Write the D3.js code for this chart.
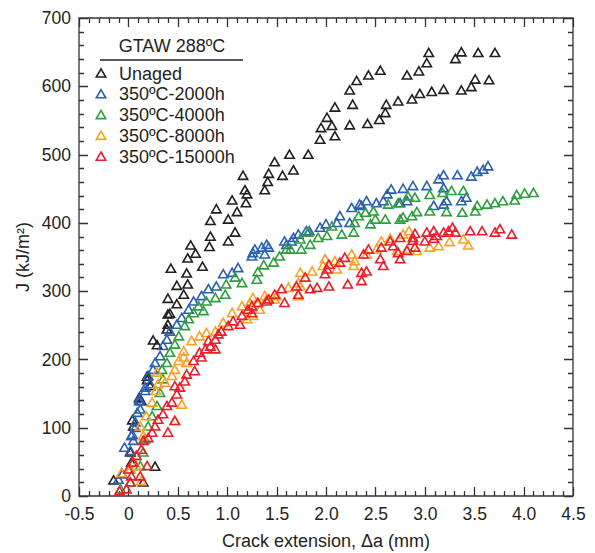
<!DOCTYPE html>
<html>
<head>
  <meta charset="utf-8">
  <title>J-R curves GTAW 288C</title>
  <script src="https://d3js.org/d3.v7.min.js"></script>
<style type="text/css">
body {
  margin: 0;
  background: #fff;
  font-family: "Liberation Sans", Arial, Helvetica, sans-serif;
  color: #231f20;
}
.axis path { display: none; }
.axis line { display: none; }
.axis text { font-size: 17.5px; fill: #231f20; font-family: "Liberation Sans", Arial, sans-serif; }
.marker { fill: none; stroke-width: 1.6; }
</style>
</head>
<body>
<svg id="chart" width="595" height="553"></svg>

<script type="text/javascript">

// ---- data (crack extension mm, J kJ/m2) ----
const seriesNames = ['Unaged', '350ºC-2000h', '350ºC-4000h', '350ºC-8000h', '350ºC-15000h'];
const seriesColors = ['#231f20', '#2b5fb0', '#2e9e3e', '#f8a22a', '#ec1c2b'];

const unaged = [
  [-0.15,22],[0.15,19],[0.27,42],[0.03,48],[0.02,63],[0.05,101],[0.04,110],[0.11,143],[0.13,138],
  [0.19,169],[0.22,160],[0.19,174],[0.25,227],[0.29,220],[0.39,243],[0.40,250],[0.40,265],[0.42,266],
  [0.49,280],[0.40,288],[0.56,294],[0.49,307],[0.60,309],[0.59,325],[0.43,332],[0.75,335],[0.60,347],
  [0.68,354],[0.63,366],[0.82,364],[0.83,379],[1.01,372],[1.08,385],[0.83,402],[1.01,404],[1.10,415],
  [0.89,419],[1.19,428],[1.05,432],[1.20,441],[1.18,447],[1.38,447],[1.41,459],[1.16,468],[1.56,468],
  [1.42,471],[1.67,476],[1.48,488],[1.63,499],[1.82,499],[1.94,521],[1.95,538],[2.01,553],[2.06,541],
  [2.09,526],[2.09,568],[2.27,572],[2.24,593],[2.31,607],[2.43,615],[2.55,622],[2.82,615],[2.94,621],
  [3.02,633],[3.04,648],[3.31,639],[3.37,649],[3.54,648],[3.71,648],[2.24,542],[2.42,544],[2.54,550],
  [2.60,560],[2.61,572],[2.73,577],[2.87,580],[2.95,588],[3.07,591],[3.19,594],[3.37,593],[3.47,598],
  [3.51,609],[3.65,608]
];

const aged2000 = [
  [-0.10,23],[-0.06,31],[0.02,65],[-0.04,70],[0.05,80],[0.03,87],[0.04,89],[0.07,99],[0.07,107],
  [0.09,121],[0.12,126],[0.11,138],[0.11,141],[0.17,153],[0.17,158],[0.22,163],[0.20,175],[0.25,184],
  [0.27,194],[0.32,204],[0.35,219],[0.39,228],[0.42,240],[0.49,250],[0.54,260],[0.61,272],[0.66,284],
  [0.74,292],[0.81,302],[0.89,306],[0.96,324],[1.05,326],[1.11,333],[1.25,350],[1.26,355],[1.28,360],
  [1.35,363],[1.38,353],[1.40,367],[1.42,363],[1.58,372],[1.60,367],[1.65,372],[1.67,377],[1.72,382],
  [1.80,387],[1.83,387],[1.94,392],[2.00,397],[2.11,399],[2.14,409],[2.24,399],[2.26,421],[2.34,426],
  [2.36,424],[2.41,431],[2.51,428],[2.58,431],[2.62,441],[2.66,448],[2.75,428],[2.78,449],[2.82,431],
  [2.88,453],[3.02,453],[3.09,424],[3.14,463],[3.19,450],[3.19,469],[3.19,426],[3.22,431],[3.33,469],
  [3.37,431],[3.42,436],[3.47,467],[3.53,474],[3.59,477],[3.64,482]
];

const aged4000 = [
  [-0.08,9],[0.02,19],[0.12,43],[0.15,63],[0.17,82],[0.20,101],[0.24,116],[0.29,131],[0.32,150],
  [0.35,170],[0.34,184],[0.39,194],[0.42,209],[0.47,221],[0.51,233],[0.57,248],[0.61,258],[0.66,267],
  [0.71,277],[0.76,270],[0.79,284],[0.88,289],[0.98,294],[0.99,309],[1.08,319],[1.15,311],[1.30,316],
  [1.31,327],[1.37,337],[1.47,341],[1.53,350],[1.60,360],[1.64,360],[1.74,375],[1.75,360],[1.84,367],
  [1.82,385],[1.92,377],[2.01,380],[2.06,394],[2.16,382],[2.28,385],[2.29,399],[2.33,409],[2.40,414],
  [2.45,397],[2.48,416],[2.50,404],[2.60,404],[2.63,426],[2.73,428],[2.75,404],[2.78,407],[2.83,438],
  [2.87,409],[2.90,436],[2.92,415],[3.05,416],[3.05,440],[3.18,443],[3.22,415],[3.27,446],[3.38,414],
  [3.39,446],[3.51,416],[3.53,424],[3.63,426],[3.71,428],[3.79,431],[3.91,432],[3.93,440],[4.01,442],
  [4.10,443]
];

const aged8000 = [
  [-0.07,33],[0.02,38],[0.08,43],[0.13,21],[0.15,87],[0.12,101],[0.18,116],[0.24,136],[0.28,153],
  [0.30,163],[0.37,165],[0.44,175],[0.29,180],[0.47,184],[0.59,194],[0.51,197],[0.56,202],[0.56,211],
  [0.64,226],[0.72,233],[0.79,238],[0.88,240],[0.96,253],[1.05,267],[1.15,277],[1.20,258],[0.54,133],
  [0.47,109],[1.23,282],[1.26,263],[1.26,289],[1.30,282],[1.33,272],[1.38,292],[1.40,287],[1.48,287],
  [1.50,292],[1.62,304],[1.72,292],[1.72,311],[1.74,306],[1.74,326],[1.86,328],[1.97,336],[1.99,346],
  [2.09,343],[2.11,331],[2.26,353],[2.28,336],[2.29,343],[2.41,353],[2.51,360],[2.56,372],[2.65,376],
  [2.72,358],[2.78,382],[2.84,387],[2.82,360],[2.92,358],[3.05,363],[3.14,365],[3.25,371],[3.39,375],
  [3.44,366]
];

const aged15000 = [
  [-0.09,6],[-0.02,9],[0.02,19],[0.03,28],[0.12,28],[0.00,38],[0.05,48],[0.19,43],[0.08,58],[0.13,67],
  [0.15,80],[0.20,84],[0.24,92],[0.40,92],[0.27,101],[0.47,109],[0.30,111],[0.35,119],[0.39,131],
  [0.44,136],[0.49,148],[0.52,158],[0.47,160],[0.57,167],[0.59,177],[0.67,182],[0.66,197],[0.74,202],
  [0.72,209],[0.78,214],[0.88,214],[0.83,218],[0.81,226],[0.88,228],[0.91,236],[0.94,240],[1.01,248],
  [1.13,250],[1.06,255],[1.15,263],[1.25,267],[1.21,272],[1.25,277],[1.31,282],[1.40,284],[1.42,287],
  [1.48,294],[1.55,302],[1.58,282],[1.70,306],[1.72,294],[1.79,319],[1.84,302],[1.91,304],[1.99,324],
  [2.01,331],[2.03,338],[2.03,306],[2.14,341],[2.19,348],[2.22,309],[2.36,314],[2.36,326],[2.41,328],
  [2.38,353],[2.43,360],[2.55,346],[2.58,336],[2.56,363],[2.65,372],[2.68,365],[2.73,355],[2.75,377],
  [2.75,346],[2.82,358],[2.88,377],[2.90,363],[2.90,383],[2.88,373],[3.02,385],[3.00,372],[3.09,387],
  [3.09,376],[3.12,380],[3.19,385],[3.24,387],[3.28,392],[3.31,385],[3.46,387],[3.58,387],[3.71,385],
  [3.76,390],[3.88,382]
];

const seriesData = [unaged, aged2000, aged4000, aged8000, aged15000];

const xMajorTicks = [-0.5, 0, 0.5, 1.0, 1.5, 2.0, 2.5, 3.0, 3.5, 4.0, 4.5];
const xTickLabels = ['-0.5', '0', '0.5', '1.0', '1.5', '2.0', '2.5', '3.0', '3.5', '4.0', '4.5'];
const yMajorTicks = [0, 100, 200, 300, 400, 500, 600, 700];
const yTickLabels = ['0', '100', '200', '300', '400', '500', '600', '700'];

// ---- layout ----
const plotLeft = 79, plotRight = 573, plotTop = 18, plotBottom = 496;

const x = d3.scaleLinear().domain([-0.5, 4.5]).range([plotLeft, plotRight]);
const y = d3.scaleLinear().domain([0, 700]).range([plotBottom, plotTop]);

const svg = d3.select('#chart');

const xMinor = d3.range(-0.5, 4.5001, 0.1).map(v => +v.toFixed(2));
const yMinor = d3.range(0, 700.1, 20);

// tick labels from d3 axes (tick marks drawn below as one path)
svg.append('g').attr('class', 'axis').attr('transform', `translate(0,${plotBottom})`)
  .call(d3.axisBottom(x).tickValues(xMajorTicks).tickSize(0).tickPadding(12)
    .tickFormat((d, i) => xTickLabels[i]));
svg.append('g').attr('class', 'axis').attr('transform', `translate(${plotLeft},0)`)
  .call(d3.axisLeft(y).tickValues(yMajorTicks).tickSize(0).tickPadding(8)
    .tickFormat((d, i) => yTickLabels[i]));

// inward tick marks on all four sides + frame, as a single path
const tp = d3.path();
function addXTicks(vals, len) {
  vals.forEach(v => {
    const px = Math.round(x(v)) + 0.5;
    tp.moveTo(px, plotBottom); tp.lineTo(px, plotBottom - len);
    tp.moveTo(px, plotTop); tp.lineTo(px, plotTop + len);
  });
}
function addYTicks(vals, len) {
  vals.forEach(v => {
    const py = Math.round(y(v)) + 0.5;
    tp.moveTo(plotLeft, py); tp.lineTo(plotLeft + len, py);
    tp.moveTo(plotRight, py); tp.lineTo(plotRight - len, py);
  });
}
addXTicks(xMinor, 5);
addYTicks(yMinor, 5);
addXTicks(xMajorTicks, 9);
addYTicks(yMajorTicks, 9);
tp.rect(plotLeft, plotTop, plotRight - plotLeft, plotBottom - plotTop);

svg.append('path')
  .attr('d', tp.toString())
  .attr('fill', 'none')
  .attr('stroke', '#333')
  .attr('stroke-width', 1.3);

// axis titles
svg.append('text')
  .attr('x', (plotLeft + plotRight) / 2).attr('y', 547)
  .attr('text-anchor', 'middle')
  .style('font-size', '18px').style('fill', '#231f20')
  .text('Crack extension, Δa (mm)');

svg.append('text')
  .attr('transform', 'translate(29,' + ((plotTop + plotBottom) / 2) + ') rotate(-90)')
  .attr('text-anchor', 'middle')
  .style('font-size', '18px').style('fill', '#231f20')
  .text('J (kJ/m²)');

// markers
const tri = 'M0,-5.2L4.7,3L-4.7,3Z';

seriesData.forEach((pts, i) => {
  svg.append('g')
    .selectAll('path')
    .data(pts)
    .enter()
    .append('path')
    .attr('class', 'marker')
    .attr('d', tri)
    .attr('stroke', seriesColors[i])
    .attr('transform', d => 'translate(' + x(d[0]) + ',' + y(d[1]) + ')');
});

// legend
const legend = svg.append('g');
legend.append('text')
  .attr('x', 172).attr('y', 52)
  .attr('text-anchor', 'middle')
  .style('font-size', '18px').style('fill', '#231f20')
  .text('GTAW 288ºC');
legend.append('line')
  .attr('x1', 100).attr('x2', 243).attr('y1', 60).attr('y2', 60)
  .attr('stroke', '#231f20').attr('stroke-width', 1.6);

seriesNames.forEach((name, i) => {
  const cy = 73 + i * 20.8;
  legend.append('path')
    .attr('class', 'marker')
    .attr('d', tri)
    .attr('stroke', seriesColors[i])
    .attr('transform', 'translate(101,' + (cy + 1) + ')');
  legend.append('text')
    .attr('x', 119).attr('y', cy + 6.5)
    .style('font-size', '18px').style('fill', '#231f20')
    .text(name);
});

</script>
</body>
</html>
